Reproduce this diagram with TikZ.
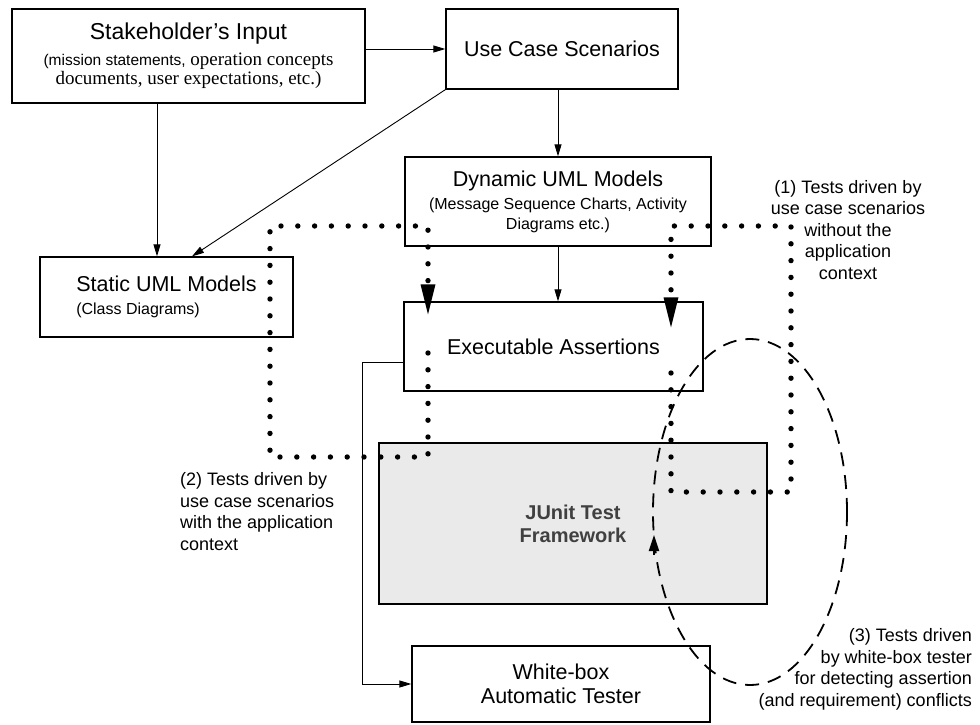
\documentclass[tikz,border=0pt]{standalone}
\usepackage{fontspec}
\setmainfont{Liberation Sans}
\newfontfamily\timesfont{Liberation Serif}
\usetikzlibrary{arrows.meta,calc}
\definecolor{junitgray}{RGB}{234,234,234}
\newcommand{\titlesize}{\fontsize{21.5}{24}\selectfont}
\newcommand{\subsize}{\fontsize{16}{20}\selectfont}

\begin{document}
\begin{tikzpicture}[x=1pt,y=-1pt,
    box/.style={draw,line width=1.3pt,align=center,inner sep=0pt,font=\titlesize},
    arr/.style={-{Triangle[length=12pt,width=7pt]},line width=0.9pt},
    dots/.style={line width=5.4pt,line cap=round,dash pattern=on 0pt off 16.8pt,
        -{Triangle[length=30pt,width=15pt,line width=0pt]}},
    ring/.style={line width=1.8pt,dash pattern=on 14pt off 9pt},
    note/.style={inner sep=0pt,font=\fontsize{18}{21.5}\selectfont}
]
\useasboundingbox (0,0) rectangle (980,725);

% boxes
\node[box,minimum width=353pt,minimum height=94pt,font=\fontsize{23}{26}\selectfont] (stake) at (188.5,56)
  {Stakeholder's Input\\{\fontsize{15.5}{19}\selectfont (mission statements,}{\timesfont\fontsize{19}{19}\selectfont\ operation concepts}\\[-7pt]
   {\timesfont\fontsize{19}{19}\selectfont documents, user expectations, etc.)}};
\node[box,minimum width=232pt,minimum height=80pt] (usecase) at (562,49) {Use Case Scenarios};
\node[box,minimum width=306pt,minimum height=89pt] (dynamic) at (558,201.5)
  {Dynamic UML Models\\[-1pt]{\subsize (Message Sequence Charts, Activity}\\[-4pt]{\subsize Diagrams etc.)}};
\node[box,align=left,minimum width=253pt,minimum height=80pt] (static) at (166.5,297)
  {Static UML Models\\[-1pt]{\subsize (Class Diagrams)}};
\node[box,minimum width=299pt,minimum height=89pt] (assert) at (553.5,346.5) {Executable Assertions};
\node[box,minimum width=388pt,minimum height=161pt,fill=junitgray,line width=2pt,
  font=\fontsize{20}{23}\selectfont\bfseries,text=black!75] (junit) at (573,523.5) {JUnit Test\\Framework};
\node[box,minimum width=298pt,minimum height=76pt] (whitebox) at (561,684) {White-box\\Automatic Tester};

% labels
\node[note,align=center] (lblone) at (848,230)
  {(1) Tests driven by\\use case scenarios\\without the\\application\\context};
\node[note,align=left,anchor=west] (lbltwo) at (180,511.5)
  {(2) Tests driven by\\use case scenarios\\with the application\\context};
\node[note,align=right,anchor=east] (lblthree) at (972,669.5)
  {(3) Tests driven\\by white-box tester\\for detecting assertion\\(and requirement) conflicts};

% flow
\draw[arr] (stake.east |- usecase.west) -- (usecase.west);
\draw[arr] ([xshift=-31.5pt]stake.south) -- ([xshift=-31.5pt]stake.south |- static.north);
\draw[arr] (usecase.south west) -- ([xshift=25.5pt]static.north);
\draw[arr] (usecase.south -| dynamic.north) -- (dynamic.north);
\draw[arr] (dynamic.south) -- (dynamic.south |- assert.north);
\draw[arr] ([yshift=-15.5pt]assert.west) -- ++(-41pt,0) |- (whitebox.west);

% test loops
\coordinate (p1s) at (671,373);
\coordinate (p1c) at (791,492);
\coordinate (p1e) at (671,226);
\draw[dots] (p1s) |- (p1c) |- (p1e) -- ([yshift=-26pt]p1e |- assert.north);
\coordinate (p2s) at (428,353);
\coordinate (p2c) at (270,457);
\coordinate (p2e) at (428,226);
\draw[dots] (p2s) |- (p2c) |- (p2e) -- ([yshift=-13pt]p2e |- assert.north);

% white-box loop
\coordinate (ringc) at (750,512);
\draw[ring] (ringc) ellipse [x radius=97pt,y radius=173pt];
\coordinate (ringtip) at (654,535);
\draw[-{Triangle[length=16pt,width=10pt]},line width=1.8pt] ([yshift=-20pt]ringtip) -- (ringtip);
\end{tikzpicture}
\end{document}
